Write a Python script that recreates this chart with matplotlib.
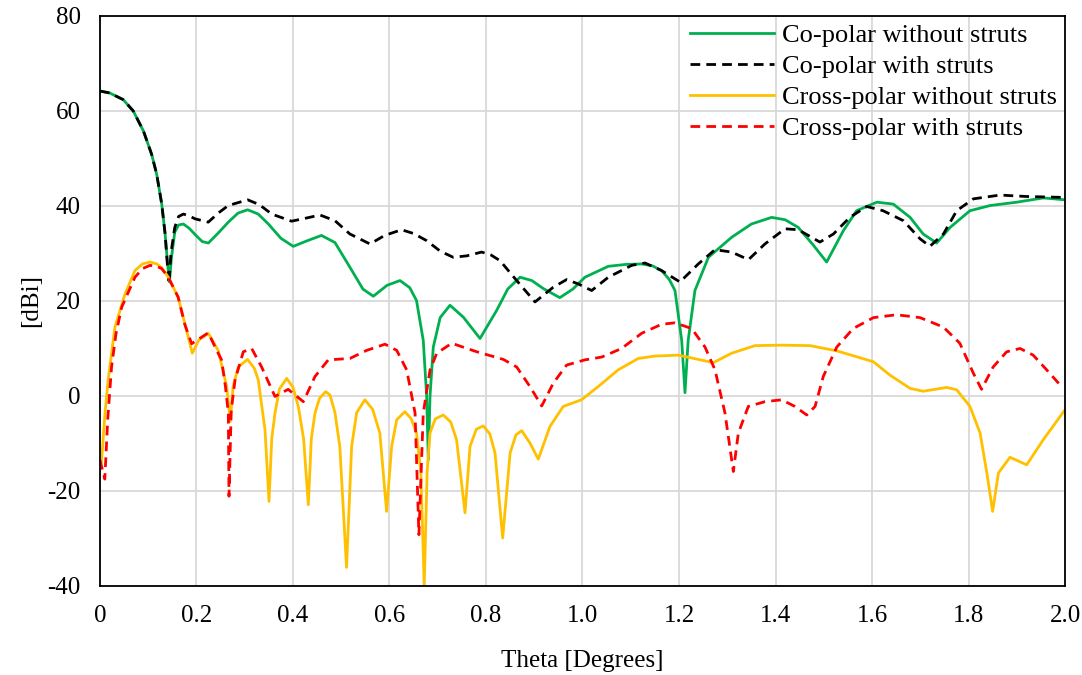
import matplotlib
matplotlib.use("Agg")
import matplotlib.pyplot as plt

# Theta [deg] / gain [dBi]
co_nostrut_theta = [0.0, 0.02, 0.048, 0.069, 0.09, 0.107, 0.1175, 0.128, 0.135, 0.1405, 0.144, 0.148,
                    0.155, 0.163, 0.173, 0.185, 0.197, 0.212, 0.2245, 0.245, 0.266, 0.286, 0.306, 0.328,
                    0.349, 0.375, 0.4006, 0.43, 0.459, 0.487, 0.518, 0.545, 0.5665, 0.595, 0.6218, 0.642,
                    0.656, 0.67, 0.677, 0.6805, 0.684, 0.6908, 0.705, 0.7254, 0.753, 0.7876, 0.822, 0.845,
                    0.8705, 0.895, 0.919, 0.953, 0.98, 1.005, 1.0535, 1.09, 1.1227, 1.145, 1.164, 1.18,
                    1.1917, 1.2056, 1.2124, 1.219, 1.233, 1.261, 1.309, 1.35, 1.392, 1.42, 1.447, 1.478,
                    1.506, 1.5406, 1.568, 1.61, 1.644, 1.679, 1.706, 1.734, 1.762, 1.803, 1.845, 1.9,
                    1.955, 2.0]
co_nostrut_db = [64.2, 63.8, 62.4, 60.0, 55.8, 50.9, 46.7, 40.4, 34.1, 27.5, 24.0, 29.0,
                 34.5, 36.0, 36.2, 35.3, 34.0, 32.5, 32.2, 34.3, 36.6, 38.5, 39.2, 38.3,
                 36.2, 33.2, 31.5, 32.7, 33.8, 32.3, 27.1, 22.5, 21.0, 23.3, 24.3, 22.8,
                 20.1, 11.7, 0.0, -13.4, 0.0, 10.3, 16.5, 19.1, 16.6, 12.1, 18.0, 22.5,
                 25.0, 24.3, 22.6, 20.7, 22.5, 25.0, 27.3, 27.7, 27.8, 27.4, 26.4, 24.5,
                 22.2, 11.7, 0.7, 11.7, 22.2, 29.2, 33.4, 36.2, 37.6, 37.1, 35.5, 31.8,
                 28.2, 34.8, 39.0, 40.8, 40.4, 37.6, 34.1, 32.2, 35.5, 39.0, 40.1, 40.8,
                 41.7, 41.3]

co_strut_theta = [0.0, 0.02, 0.048, 0.069, 0.09, 0.107, 0.1175, 0.128, 0.135, 0.1405, 0.143, 0.147,
                  0.155, 0.163, 0.173, 0.185, 0.197, 0.2245, 0.245, 0.266, 0.306, 0.33, 0.356, 0.397,
                  0.425, 0.456, 0.487, 0.518, 0.5596, 0.59, 0.625, 0.65, 0.677, 0.705, 0.732, 0.76,
                  0.791, 0.81, 0.829, 0.8636, 0.9016, 0.9395, 0.967, 0.991, 1.019, 1.0535, 1.102,
                  1.1295, 1.164, 1.202, 1.24, 1.2746, 1.309, 1.344, 1.378, 1.4197, 1.447, 1.4715,
                  1.492, 1.52, 1.554, 1.589, 1.623, 1.665, 1.6995, 1.72, 1.748, 1.7755, 1.81, 1.865,
                  1.92, 2.0]
co_strut_db = [64.2, 63.8, 62.4, 60.0, 55.8, 50.9, 46.7, 40.4, 34.1, 26.5, 23.6, 30.0,
               35.5, 37.8, 38.3, 37.9, 37.3, 36.6, 38.5, 40.1, 41.3, 40.3, 38.3, 36.8,
               37.4, 38.1, 36.9, 34.1, 32.0, 33.8, 35.0, 34.2, 32.7, 30.5, 29.2, 29.5,
               30.3, 29.7, 28.5, 24.3, 19.8, 22.9, 24.5, 23.6, 22.2, 25.0, 27.5,
               28.0, 26.4, 24.0, 27.8, 30.8, 30.3, 28.7, 32.0, 35.2, 35.0, 33.6,
               32.4, 34.1, 37.6, 39.9, 39.0, 36.9, 33.1, 31.5, 34.1, 39.0, 41.5, 42.3,
               42.0, 41.8]

cx_nostrut_theta = [0.003, 0.0104, 0.017, 0.031, 0.052, 0.0725, 0.088, 0.1036, 0.118, 0.128, 0.1416,
                    0.162, 0.176, 0.1913, 0.205, 0.2245, 0.245, 0.2626, 0.27, 0.276, 0.2866, 0.306,
                    0.32, 0.328, 0.342, 0.3503, 0.356, 0.3627, 0.372, 0.387, 0.4, 0.411, 0.422, 0.4318,
                    0.438, 0.4456, 0.455, 0.4677, 0.4767, 0.487, 0.497, 0.511, 0.5216, 0.532, 0.549,
                    0.565, 0.58, 0.594, 0.6045, 0.615, 0.632, 0.645, 0.656, 0.665, 0.672, 0.678, 0.684,
                    0.695, 0.7115, 0.727, 0.739, 0.7565, 0.767, 0.78, 0.7944, 0.808, 0.8187, 0.8346,
                    0.85, 0.862, 0.874, 0.891, 0.9084, 0.9326, 0.9602, 0.998, 1.0328, 1.074, 1.1157,
                    1.15, 1.1986, 1.24, 1.271, 1.309, 1.3575, 1.413, 1.4715, 1.527, 1.603, 1.637,
                    1.679, 1.706, 1.755, 1.7755, 1.803, 1.824, 1.838, 1.85, 1.862, 1.886, 1.9206,
                    1.955, 2.0]
cx_nostrut_db = [-14.0, -3.6, 3.4, 14.5, 21.5, 26.4, 27.8, 28.2, 27.8, 27.0, 25.0,
                 20.8, 15.2, 9.0, 11.8, 13.2, 9.6, 2.0, -5.4, 2.0, 6.1, 7.7,
                 5.8, 3.4, -7.1, -22.2, -9.0, -3.6, 1.5, 3.7, 1.8, -2.2, -9.0, -22.9,
                 -9.0, -3.6, -0.5, 0.9, 0.2, -3.5, -10.6, -36.1, -10.6, -3.5, -0.8,
                 -2.8, -7.8, -24.3, -10.6, -5.0, -3.3, -4.8, -7.8, -16.0, -40.0, -16.0, -7.8,
                 -4.8, -4.0, -5.5, -9.2, -24.6, -10.6, -7.0, -6.3, -8.0, -12.0, -29.9,
                 -12.0, -8.2, -7.3, -9.9, -13.3, -6.4, -2.2, -0.8, 2.0, 5.5, 7.9,
                 8.4, 8.6, 7.7, 7.0, 9.0, 10.6, 10.7, 10.6, 9.5, 7.2, 4.4,
                 1.6, 1.0, 1.8, 1.3, -2.2, -7.8, -16.2, -24.3, -16.2, -12.9, -14.5,
                 -9.2, -2.9]

cx_strut_theta = [0.0, 0.01, 0.016, 0.024, 0.033, 0.045, 0.0725, 0.088, 0.1036, 0.118, 0.128, 0.1416,
                  0.162, 0.176, 0.19, 0.205, 0.2245, 0.24, 0.252, 0.26, 0.266, 0.2674, 0.272, 0.28,
                  0.297, 0.3144, 0.335, 0.3627, 0.39, 0.4214, 0.4456, 0.473, 0.518, 0.5527, 0.5907,
                  0.615, 0.6356, 0.653, 0.661, 0.67, 0.684, 0.698, 0.729, 0.781, 0.836, 0.8636, 0.891,
                  0.9155, 0.9395, 0.967, 1.005, 1.04, 1.081, 1.1227, 1.164, 1.1917, 1.2263, 1.2539,
                  1.2746, 1.2953, 1.3126, 1.323, 1.3436, 1.378, 1.413, 1.44, 1.4647, 1.482, 1.499,
                  1.527, 1.561, 1.603, 1.651, 1.6995, 1.748, 1.782, 1.81, 1.827, 1.851, 1.879, 1.907,
                  1.934, 1.962, 1.99]
cx_strut_db = [-13.5, -17.5, -5.0, 6.1, 13.0, 18.7, 25.0, 26.8, 27.5, 27.3, 26.8, 25.0,
               20.8, 15.0, 11.0, 12.0, 13.3, 10.0, 7.6, 2.0, -3.6, -21.1, -3.0, 3.4,
               9.3, 10.0, 6.1, -0.1, 1.4, -1.2, 4.1, 7.6, 7.9, 9.6, 10.9,
               9.6, 5.5, -3.6, -29.2, -3.6, 5.5, 9.0, 11.1, 9.3, 7.7, 6.1, 2.0,
               -2.1, 2.7, 6.5, 7.6, 8.2, 10.0, 13.2, 15.1, 15.4, 14.2, 10.3,
               5.5, -3.6, -15.9, -7.8, -2.2, -1.2, -0.8, -2.2, -4.0, -2.2, 4.1,
               10.3, 14.2, 16.5, 17.1, 16.5, 14.5, 11.1, 4.8, 1.4, 6.1, 9.3, 10.0,
               8.6, 5.5, 2.3]

x_ticks = [0, 0.2, 0.4, 0.6, 0.8, 1.0, 1.2, 1.4, 1.6, 1.8, 2.0]
x_ticklabels = ["0", "0.2", "0.4", "0.6", "0.8", "1.0", "1.2", "1.4", "1.6", "1.8", "2.0"]
y_ticks = [-40, -20, 0, 20, 40, 60, 80]

plt.rcParams['font.family'] = ['Liberation Serif', 'DejaVu Serif']
plt.rcParams['axes.unicode_minus'] = False

fig = plt.figure(figsize=(10.82, 6.75), dpi=100)
ax = fig.add_axes([0.0924, 0.1319, 0.8919, 0.8444])

lw = 2.0
dash = (3.5, 2.2)
ax.plot(co_nostrut_theta, co_nostrut_db, color="#00B050", lw=lw, label="Co-polar without struts")
ax.plot(co_strut_theta, co_strut_db, color="black", lw=lw, linestyle=(0, dash), label="Co-polar with struts")
ax.plot(cx_nostrut_theta, cx_nostrut_db, color="#FFC000", lw=lw, label="Cross-polar without struts")
ax.plot(cx_strut_theta, cx_strut_db, color="#FF0000", lw=lw, linestyle=(0, dash), label="Cross-polar with struts")

ax.set_xlim(0, 2.0)
ax.set_ylim(-40, 80)
ax.set_xticks(x_ticks)
ax.set_xticklabels(x_ticklabels)
ax.set_yticks(y_ticks)
ax.tick_params(axis="both", length=0, labelsize=18)
ax.tick_params(axis="x", pad=14)
ax.tick_params(axis="y", pad=14)
ax.grid(True, color="#d9d9d9", lw=1.3)
ax.set_axisbelow(True)
for s in ax.spines.values():
    s.set_color("black")
    s.set_linewidth(1.3)

ax.set_xlabel("Theta [Degrees]", fontsize=18, labelpad=16)
ax.set_ylabel("[dBi]", fontsize=18, labelpad=4)

ax.legend(loc="upper right", bbox_to_anchor=(1.0, 1.0), frameon=False, fontsize=19,
          handlelength=3.2, handletextpad=0.3, labelspacing=0.28, borderaxespad=0.1,
          borderpad=0.2)

fig.savefig("out.png", dpi=100)
